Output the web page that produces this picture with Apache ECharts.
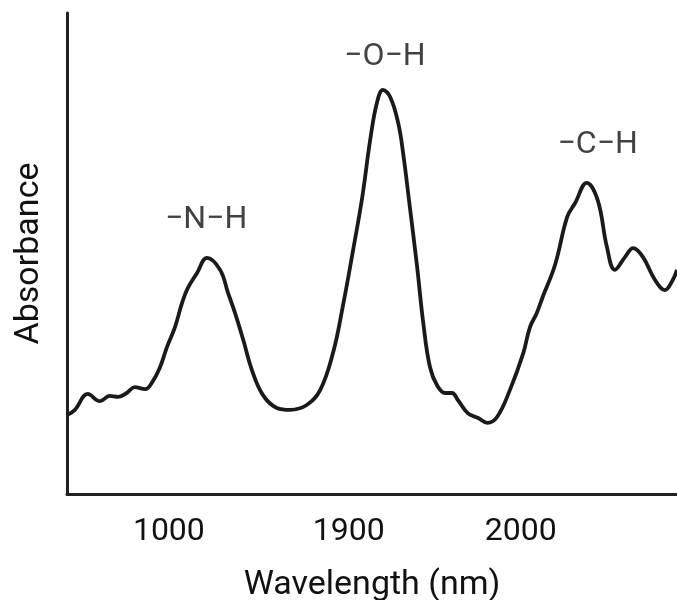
<!DOCTYPE html>
<html>
<head>
<meta charset="utf-8">
<style>
html,body{margin:0;padding:0;background:#fff;}
#chart{width:677px;height:600px;}
</style>
<script src="https://cdn.jsdelivr.net/npm/echarts@6/dist/echarts.min.js"></script>
</head>
<body>
<div id="chart"></div>
<script>
// Relative position along the wavelength axis (0–100 across the plot)
var positions = [0.0,1.3,3.4,5.4,7.0,8.4,9.8,11.1,12.8,13.9,15.2,16.4,17.7,18.9,19.8,21.3,22.95,25.1,26.4,27.5,28.9,30.3,32.1,34.4,36.6,39.3,41.5,43.6,45.2,46.9,48.4,49.7,50.8,51.8,53.0,54.3,55.1,56.2,57.4,58.4,59.5,60.7,62.0,63.1,64.1,65.7,67.4,68.9,70.5,72.6,74.8,75.9,77.0,78.0,80.0,82.0,83.3,85.2,87.0,88.5,89.8,91.5,92.8,94.4,96.4,98.0,99.3,100];
// Absorbance (arbitrary units, 0–100)
var absorbance = [16.4,17.5,20.8,19.3,20.4,20.2,21.0,22.2,21.8,23.1,26.2,30.6,34.7,39.9,42.8,45.9,49.1,46.6,41.8,37.8,32.0,25.8,20.6,17.9,17.5,18.5,21.6,29.3,38.9,50.7,61.7,73.6,81.3,84.0,82.5,77.1,70.9,59.7,47.2,35.6,26.4,22.5,21.0,21.0,19.5,16.8,15.8,14.8,16.0,21.6,29.3,34.7,37.6,41.0,47.6,57.6,60.5,64.7,61.1,51.4,46.6,49.3,51.1,49.3,44.5,42.4,44.5,46.6];
// Tick labels and their positions
var tickLabels = ['1000','1900','2000'];
var tickPositions = [16.7,46.2,74.4];
// Band annotations
var bandNames = ['\u2212N\u2212H','\u2212O\u2212H','\u2212C\u2212H'];
var bandX = [22.8,52.1,87.0];
var bandY = [56.9,90.9,72.6];

var lineData = positions.map(function(p,i){return [p, absorbance[i]];});
var bandData = bandNames.map(function(n,i){return {name:n, value:[bandX[i], bandY[i]]};});

var FONT = 'Roboto';
var INK = '#111111';
var chart = echarts.init(document.getElementById('chart'), null, {renderer:'canvas'});
chart.setOption({
  backgroundColor:'#ffffff',
  animation:false,
  grid:{left:67,right:0,top:13,bottom:106,outerBoundsMode:'none',containLabel:false},
  xAxis:{
    type:'value', min:0, max:100,
    name:'Wavelength (nm)', nameLocation:'middle', nameGap:74,
    nameTextStyle:{fontFamily:FONT,fontSize:34,color:INK},
    axisLine:{show:true,onZero:false,lineStyle:{color:'#222',width:3}},
    axisTick:{show:false},
    splitLine:{show:false},
    axisLabel:{
      customValues:tickPositions,
      formatter:function(v){var i=tickPositions.indexOf(v);return i>=0?tickLabels[i]:'';},
      fontFamily:FONT,fontSize:32,color:INK,margin:22
    }
  },
  yAxis:{
    type:'value', min:0, max:100,
    name:'Absorbance', nameLocation:'middle', nameGap:21,
    nameTextStyle:{fontFamily:FONT,fontSize:34,color:INK},
    axisLine:{show:true,onZero:false,lineStyle:{color:'#222',width:3}},
    axisTick:{show:false},
    axisLabel:{show:false},
    splitLine:{show:false}
  },
  series:[
    {
      type:'line', data:lineData, smooth:0.4, showSymbol:false,
      lineStyle:{color:'#1a1a1a',width:3.8}
    },
    {
      type:'scatter', data:bandData, symbolSize:0,
      label:{show:true,position:'inside',formatter:'{b}',fontFamily:FONT,fontSize:32,color:INK}
    }
  ]
});
</script>
</body>
</html>
